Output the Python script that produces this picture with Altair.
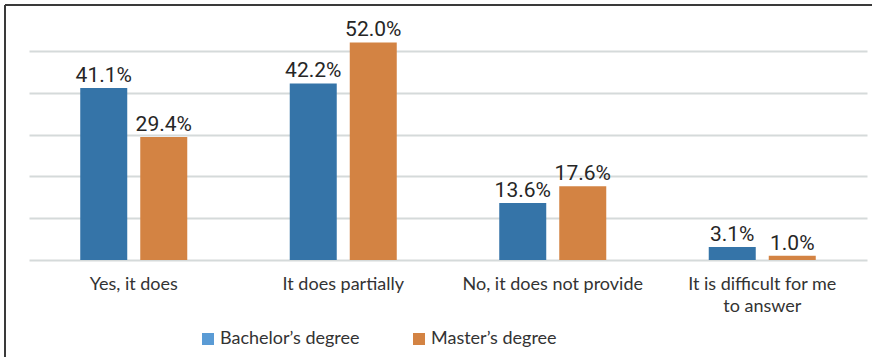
import json
import altair as alt
import pandas as pd

# Survey answers by degree level (percent of respondents)
categories = [
    "Yes, it does",
    "It does partially",
    "No, it does not provide",
    "It is difficult for me to answer",
]
series = ["Bachelor’s degree", "Master’s degree"]
bachelor = [41.1, 42.2, 13.6, 3.1]
master = [29.4, 52.0, 17.6, 1.0]

# How long category names are broken onto two lines
wrapped = {"It is difficult for me to answer": ["It is difficult for me", "to answer"]}

bar_colors = ["#3574A8", "#D38343"]
legend_colors = ["#5A9BD5", "#D38343"]

rows = []
for cat, b, m in zip(categories, bachelor, master):
    rows.append({"category": cat, "series": series[0], "value": b})
    rows.append({"category": cat, "series": series[1], "value": m})
df = pd.DataFrame(rows)

label_expr = "datum.label"
for k, v in wrapped.items():
    label_expr = f"datum.label == {json.dumps(k)} ? {json.dumps(v)} : " + label_expr

LABEL_FONT = "Lato, Calibri, Noto Sans, sans-serif"
NUM_FONT = "Roboto, Arial, sans-serif"

x_enc = alt.X(
    "category:N",
    sort=categories,
    scale=alt.Scale(range=[-7, 831], paddingInner=0, paddingOuter=0),
    axis=alt.Axis(
        title=None,
        labelAngle=0,
        domain=False,
        ticks=False,
        labelPadding=15,
        labelFont=LABEL_FONT,
        labelFontSize=18,
        labelColor="#333333",
        labelLimit=0,
        labelLineHeight=22,
        labelExpr=label_expr,
    ),
)
y_enc = alt.Y(
    "value:Q",
    scale=alt.Scale(domain=[0, 60], nice=False),
    axis=alt.Axis(
        title=None,
        labels=False,
        domain=False,
        ticks=False,
        values=[0, 10, 20, 30, 40, 50],
        gridColor="#D5DADA",
        gridWidth=2,
    ),
)
xoff = alt.XOffset(
    "series:N",
    sort=series,
    scale=alt.Scale(paddingInner=0.2167, paddingOuter=0.854),
)

base = alt.Chart(df)

bars = base.mark_bar().encode(
    x=x_enc,
    y=y_enc,
    xOffset=xoff,
    color=alt.Color(
        "series:N", sort=series,
        scale=alt.Scale(domain=series, range=bar_colors), legend=None
    ),
)

labels = base.transform_calculate(
    txt="format(datum.value, '.1f') + '%'"
).mark_text(
    baseline="alphabetic", dy=-6, font=NUM_FONT, fontSize=21, color="#262626"
).encode(x=x_enc, y=y_enc, xOffset=xoff, text="txt:N")

legend_layer = base.transform_filter("false").mark_square(opacity=1).encode(
    x=x_enc,
    y=y_enc,
    color=alt.Color(
        "series:N",
        sort=series,
        scale=alt.Scale(domain=series, range=legend_colors),
        legend=alt.Legend(
            title=None,
            orient="none",
            direction="horizontal",
            legendX=163,
            legendY=321,
            padding=0,
            symbolType="square",
            symbolSize=144,
            symbolStrokeWidth=0,
            symbolOpacity=1,
            labelFont=LABEL_FONT,
            labelFontSize=18,
            labelColor="#333333",
            labelOffset=3,
            columnPadding=50,
            labelLimit=0,
        ),
    ),
)

# Outer frame: top and left edges
frame_top = alt.Chart(df).mark_rule(color="#3A3A3A", strokeWidth=2).encode(
    x=alt.value(-31), x2=alt.value(836), y=alt.value(-4)
)
frame_left = alt.Chart(df).mark_rule(color="#3A3A3A", strokeWidth=2).encode(
    x=alt.value(-31), y=alt.value(-4), y2=alt.value(348)
)

chart = (
    alt.layer(frame_top, frame_left, bars, labels, legend_layer)
    .resolve_scale(color="independent")
    .properties(
        width=816,
        height=251,
        padding={"left": 36, "top": 9, "right": 20, "bottom": 97},
        autosize=alt.AutoSizeParams(type="none"),
        background="white",
    )
    .configure_view(stroke=None)
)

chart.save("out.html", embed_options={"renderer": "svg", "actions": False})
